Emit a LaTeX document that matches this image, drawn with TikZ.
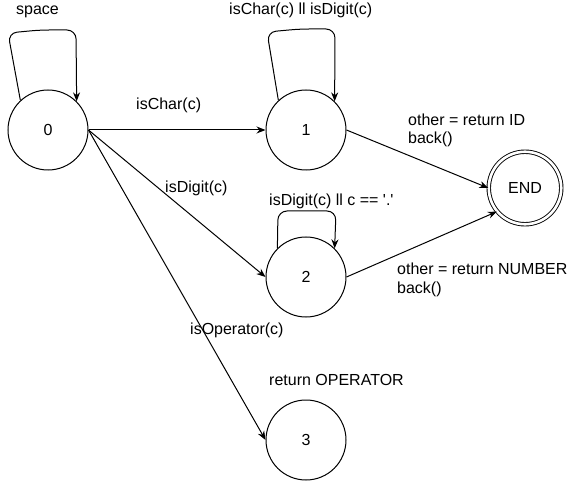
\documentclass[tikz,border=0pt]{standalone}
\usepackage{fontspec}
\setmainfont{Liberation Sans}
\usetikzlibrary{arrows.meta}
\begin{document}
\begin{tikzpicture}[x=1pt,y=-1pt,
  font=\fontsize{16}{18.5}\selectfont,
  state/.style={draw,circle,line width=1pt,minimum size=80pt,inner sep=0pt},
  final/.style={draw,circle,line width=0.9pt,double,double distance=2.6pt,minimum size=72.5pt,inner sep=0pt},
  edge/.style={line width=1pt,-{Stealth[length=9pt,width=7pt]}},
  loopedge/.style={edge,rounded corners=9pt},
  lbl/.style={anchor=west,inner sep=0pt,align=left}]
\useasboundingbox (0,0) rectangle (578,481);
\node[state] (n0) at (48,130) {0};
\node[state] (n1) at (306,130) {1};
\node[state] (n2) at (306,277) {2};
\node[state] (n3) at (306,440) {3};
\node[final] (end) at (525,188) {END};

\draw[loopedge] (n0.133) -- (8,33) -- (40,30) -- (76,30) -- (n0.45);
\draw[loopedge] (n1.133) -- (267,32) -- (300,29) -- (335,29) -- (n1.45);
\draw[loopedge] (n2.135) -- (278,211) -- (336,211) -- (n2.45);

\draw[edge] (n0.east) -- (n1.west);
\draw[edge] (n0.east) -- (n2.west);
\draw[edge] (n0.east) -- (n3.west);
\draw[edge] (n1.east) -- (end.west);
\draw[edge] (n2.east) -- (end.-140);

\node[lbl] (lspace) at (16,12) {space};
\node[lbl] (lloop1) at (229,10) {isChar(c) ll isDigit(c)};
\node[lbl] (lloop2) at (269,201) {isDigit(c) ll c == \textquotesingle.\textquotesingle};
\node[lbl] (lchar) at (136,105) {isChar(c)};
\node[lbl] (ldigit) at (165,188) {isDigit(c)};
\node[lbl] (lop) at (190,330) {isOperator(c)};
\node[lbl] (lretop) at (269,380) {return OPERATOR};
\node[lbl] (lid) at (408,130.5) {other = return ID\\back()};
\node[lbl] (lnum) at (397,280) {other = return NUMBER\\back()};
\end{tikzpicture}
\end{document}
